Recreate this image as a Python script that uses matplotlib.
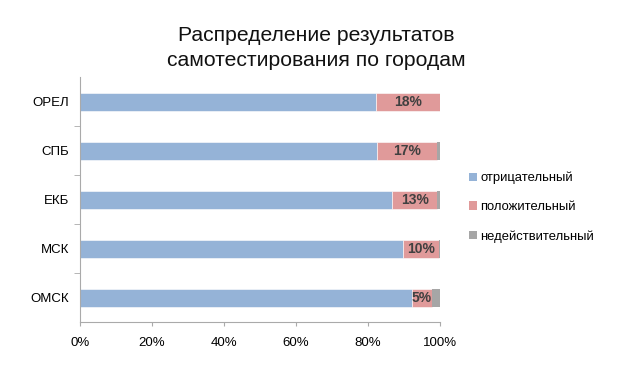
import matplotlib
matplotlib.use('Agg')
import matplotlib.pyplot as plt
from matplotlib.patches import Patch

cities = ['ОРЕЛ', 'СПБ', 'ЕКБ', 'МСК', 'ОМСК']
negative = [82.2, 82.6, 86.6, 89.8, 92.3]
positive = [17.8, 16.7, 12.7, 10.0, 5.4]
invalid = [0.0, 0.7, 0.7, 0.2, 2.3]
labels = ['18%', '17%', '13%', '10%', '5%']
series_names = ['отрицательный', 'положительный', 'недействительный']
colors = ['#95b3d7', '#e09a9a', '#a6a6a6']

plt.rcParams['font.family'] = ['Liberation Sans', 'DejaVu Sans']

fig = plt.figure(figsize=(6.23, 3.88), dpi=100)
ax = fig.add_axes([80 / 623, 1 - 322 / 388, 360 / 623, 244.5 / 388])

y = list(range(len(cities)))
h = 0.37
ax.barh(y, negative, height=h, color=colors[0], edgecolor='white', linewidth=0.4)
ax.barh(y, positive, left=negative, height=h, color=colors[1], edgecolor='white', linewidth=0.4)
lefts = [n + p for n, p in zip(negative, positive)]
ax.barh(y, invalid, left=lefts, height=h, color=colors[2], linewidth=0)

for i, lab in enumerate(labels):
    ax.text(negative[i] + positive[i] / 2, i, lab, ha='center', va='center',
            fontsize=10, fontweight='bold', color='#404040')

ax.set_yticks(y)
ax.set_yticklabels(cities, fontsize=9.5)
ax.set_ylim(len(cities) - 0.5, -0.5)
ax.set_yticks([i + 0.5 for i in range(len(cities) - 1)], minor=True)
ax.tick_params(axis='y', which='major', length=0, pad=8)
ax.tick_params(axis='y', which='minor', length=4, color='#aaaaaa', direction='out')

ax.set_xlim(0, 100)
ax.set_xticks([0, 20, 40, 60, 80, 100])
ax.set_xticklabels(['0%', '20%', '40%', '60%', '80%', '100%'], fontsize=9.5)
ax.tick_params(axis='x', length=3, color='#aaaaaa', pad=8)

for side in ['top', 'right']:
    ax.spines[side].set_visible(False)
for side in ['left', 'bottom']:
    ax.spines[side].set_color('#aaaaaa')
    ax.spines[side].set_linewidth(0.8)

fig.text(316 / 623, 1 - 48 / 388, 'Распределение результатов\nсамотестирования по городам',
         ha='center', va='center', fontsize=15.2, linespacing=1.4, color='#111111')

handles = [Patch(facecolor=c, edgecolor='none') for c in colors]
fig.legend(handles, series_names, loc='upper left', bbox_to_anchor=(457 / 623, 1 - 160 / 388),
           frameon=False, fontsize=9.4, handlelength=0.6, handleheight=0.6,
           handletextpad=0.3, labelspacing=1.3)

fig.savefig('out.png', dpi=100)
